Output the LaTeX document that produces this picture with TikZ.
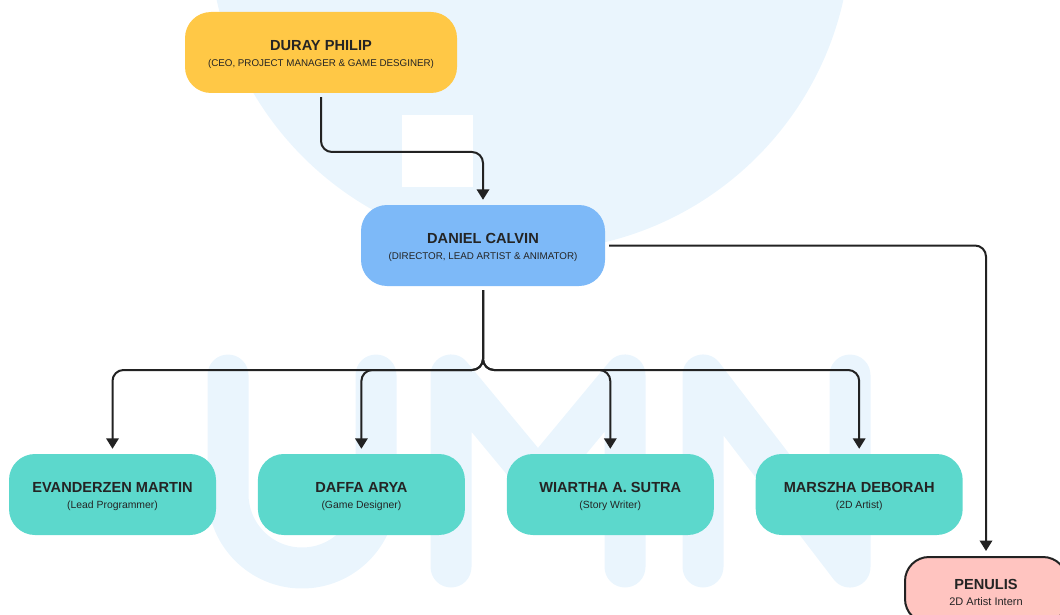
\documentclass[tikz,border=0pt]{standalone}
\usepackage{fontspec}
\setmainfont{Liberation Sans}
\usepackage{tikz}
\usetikzlibrary{arrows.meta, positioning}
\tikzset{>={Triangle[width=12.5pt,length=10.5pt]}}
\definecolor{myyellow}{RGB}{255, 200, 70}
\definecolor{myblue}{RGB}{125, 185, 248}
\definecolor{myteal}{RGB}{92, 216, 204}
\definecolor{mypink}{RGB}{255, 196, 192}
\definecolor{mywater}{RGB}{234, 245, 253}
\definecolor{myline}{RGB}{34, 34, 34}
\definecolor{mytext}{RGB}{36, 36, 36}
\newcommand{\namefont}{\fontsize{14.6}{16}\selectfont\bfseries\rule{0pt}{14.5pt}}
\newcommand{\rolefont}{\fontsize{9.8}{16}\selectfont}
\newcommand{\staffont}{\fontsize{10.4}{16}\selectfont}

\begin{document}
\begin{tikzpicture}[
    x = 1pt, y = -1pt,
    person/.style = {rounded corners = 26pt, align = center, text = mytext, font = \rolefont, inner sep = 0pt, minimum height = 81pt},
    staff/.style = {person, fill = myteal, font = \staffont, minimum width = 207pt},
    conn/.style = {->, line width = 2pt, myline, rounded corners = 11pt, shorten > = 5pt, shorten < = 4pt},
    wm/.style = {mywater, line width = 41pt, line cap = round, line join = round},
]
\useasboundingbox (0,0) rectangle (1060,615);

% watermark
\begin{scope}
\fill[mywater] (530,-70) circle (321);
\fill[white] (402,115) rectangle (473,187);
\draw[wm, rounded corners = 74pt] (228,375) -- (228,568) -- (376,568) -- (376,375);
\draw[wm] (451,567) -- (451,375) -- (538,480) -- (625,375) -- (625,567);
\draw[wm] (703,567) -- (703,375) -- (850,567) -- (850,375);
\end{scope}

\node[person, fill = myyellow, minimum width = 272pt] (dp) at (321, 52.5) {{\namefont DURAY PHILIP}\\(CEO, PROJECT MANAGER \& GAME DESGINER)};
\node[person, fill = myblue, minimum width = 244pt] (dc) at (483, 245.5) {{\namefont DANIEL CALVIN}\\(DIRECTOR, LEAD ARTIST \& ANIMATOR)};

\node[staff] (em) at (112.5, 494.5) {{\namefont EVANDERZEN MARTIN}\\(Lead Programmer)};
\node[staff, right = 41.5pt of em] (da) {{\namefont DAFFA ARYA}\\(Game Designer)};
\node[staff, right = 41.5pt of da] (ws) {{\namefont WIARTHA A. SUTRA}\\(Story Writer)};
\node[staff, right = 41.5pt of ws] (md) {{\namefont MARSZHA DEBORAH}\\(2D Artist)};

\node[person, fill = mypink, draw = myline, line width = 2pt, minimum width = 162pt, minimum height = 66pt, rounded corners = 24pt] (pn) at (986, 590) {{\namefont PENULIS}\\{\fontsize{11}{16}\selectfont 2D Artist Intern}};

\coordinate (bend) at (483, 152);
\coordinate (split) at (483, 370);

\draw[conn] (dp.south) |- (bend) -- (dc.north);
\draw[conn] (dc.east) -| (pn.north);
\draw[conn] (dc.south) -- (split) -| (em.north);
\draw[conn] (dc.south) -- (split) -| (da.north);
\draw[conn] (dc.south) -- (split) -| (ws.north);
\draw[conn] (dc.south) -- (split) -| (md.north);

\end{tikzpicture}
\end{document}
